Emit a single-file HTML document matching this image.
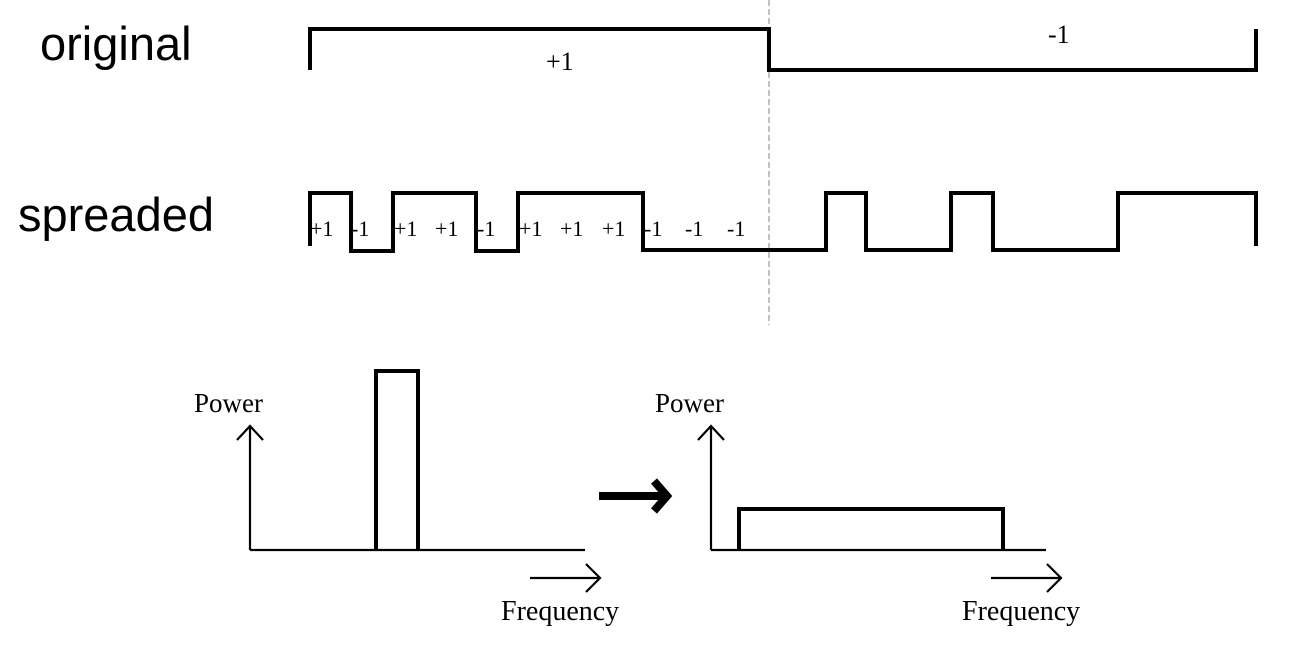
<!DOCTYPE html>
<html><head><meta charset="utf-8"><style>
html,body{margin:0;padding:0;background:#fff;}
svg{display:block;}
.s{font-family:"Liberation Serif",serif;fill:#000;}
.a{font-family:"Liberation Sans",sans-serif;fill:#000;}
</style></head><body>
<svg width="1294" height="650" viewBox="0 0 1294 650">
<line x1="769" y1="0" x2="769" y2="325" stroke="#999" stroke-width="1.2" stroke-dasharray="6,3"/>
<text class="a" x="40" y="60" font-size="47">original</text>
<text class="a" x="18" y="231" font-size="47">spreaded</text>
<g fill="none" stroke="#000" stroke-width="4" stroke-linejoin="miter">
<polyline points="310,70 310,29 769,29 769,70 1256,70 1256,29"/>
<polyline points="310,246 310,193 351,193 351,251 393,251 393,193 476,193 476,251 518,251 518,193 643,193 643,250 826,250 826,193 866,193 866,250 951,250 951,193 993,193 993,250 1118,250 1118,193 1256,193 1256,246"/>
<polyline points="376,550 376,371 418,371 418,550"/>
<polyline points="739,550 739,509 1003,509 1003,550"/>
</g>
<g fill="none" stroke="#000" stroke-width="2.2">
<line x1="250" y1="426" x2="250" y2="550"/>
<line x1="250" y1="550" x2="585" y2="550"/>
<polyline points="237,440 250,426 263,440"/>
<line x1="530" y1="578" x2="599" y2="578"/>
<polyline points="586,564 600,578 586,592"/>
<line x1="711" y1="426" x2="711" y2="550"/>
<line x1="711" y1="550" x2="1046" y2="550"/>
<polyline points="698,440 711,426 724,440"/>
<line x1="991" y1="578" x2="1060" y2="578"/>
<polyline points="1047,564 1061,578 1047,592"/>
</g>
<g fill="none" stroke="#000" stroke-width="8">
<line x1="599" y1="496" x2="662" y2="496"/>
<polyline points="654,481 667,496 654,511"/>
</g>
<text class="s" x="546" y="70" font-size="26">+1</text>
<text class="s" x="1048" y="43" font-size="26">-1</text>
<g class="s" font-size="22">
<text x="310" y="236">+1</text><text x="351" y="236">-1</text>
<text x="394" y="236">+1</text><text x="435" y="236">+1</text>
<text x="477" y="236">-1</text><text x="519" y="236">+1</text>
<text x="560" y="236">+1</text><text x="602" y="236">+1</text>
<text x="644" y="236">-1</text><text x="685" y="236">-1</text>
<text x="727" y="236">-1</text>
</g>
<g class="s" font-size="27">
<text x="194" y="412">Power</text>
<text x="655" y="412">Power</text>
</g>
<g class="s" font-size="28">
<text x="501" y="620">Frequency</text>
<text x="962" y="620">Frequency</text>
</g>
</svg>
</body></html>
